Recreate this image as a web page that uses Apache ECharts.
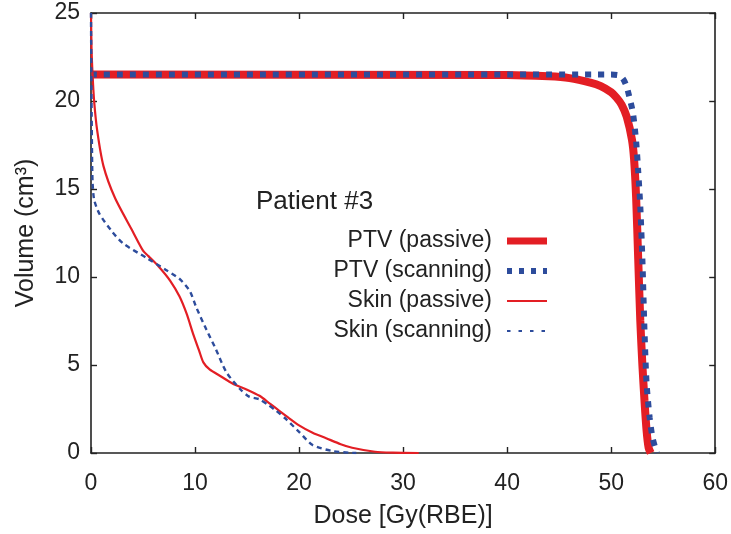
<!DOCTYPE html>
<html>
<head>
<meta charset="utf-8">
<script src="https://cdn.jsdelivr.net/npm/echarts@6/dist/echarts.min.js"></script>
<style>html,body{margin:0;padding:0;background:#fff}#c{width:731px;height:534px}</style>
</head>
<body>
<div id="c"></div>
<script>
// Data (dose in Gy(RBE), volume in cm3)
const xTicks = [0, 10, 20, 30, 40, 50, 60];
const yTicks = [0, 5, 10, 15, 20, 25];
const seriesNames = ['PTV (passive)', 'PTV (scanning)', 'Skin (passive)', 'Skin (scanning)'];
const legendTitle = 'Patient #3';
const xTitle = 'Dose [Gy(RBE)]';
const yTitle = 'Volume (cm³)';

const ptvPassive = [[0,21.5],[40,21.48],[44,21.4],[46,21.3],[48,21.05],[49,20.85],[50,20.5],[50.5,20.2],[51,19.8],[51.5,19.1],[52,17.8],[52.2,16.7],[52.4,14.5],[52.6,11],[52.8,7.5],[53,5],[53.2,3],[53.4,1.3],[53.6,0.3],[53.8,0]];
const ptvScanning = [[0,21.5],[50,21.5],[50.8,21.45],[51.2,21.2],[51.5,20.8],[51.8,20.1],[52.1,19.3],[52.4,17.7],[52.6,16],[52.8,14],[53.0,11],[53.2,7],[53.4,4],[53.7,2],[54,0.8],[54.4,0]];
const skinPassive = [[0,25],[0.05,23],[0.15,21.5],[0.3,20],[0.6,18.3],[1.2,16.3],[2.3,14.5],[4.0,12.6],[5.0,11.5],[5.5,11.2],[6.5,10.6],[7.6,9.8],[8.5,8.9],[9.2,7.9],[9.8,6.8],[10.4,5.8],[10.8,5.15],[11.4,4.75],[12.5,4.35],[13.6,3.95],[15,3.6],[16.2,3.25],[17.2,2.8],[18.1,2.4],[19,2.0],[20,1.57],[21.3,1.15],[22.6,0.84],[24,0.5],[25.1,0.3],[27.3,0.07],[29,0.02],[31.5,0]];
const skinScanning = [[0,25],[0.05,20],[0.1,17],[0.15,15.4],[0.3,14.4],[0.8,13.6],[2.0,12.6],[3.1,11.9],[5.3,11.1],[7.2,10.4],[8.5,9.9],[9.5,9.2],[10.1,8.3],[11.1,7.0],[12.0,5.9],[13.0,4.6],[14.3,3.65],[15.2,3.2],[16.2,3.05],[17.1,2.7],[17.8,2.4],[18.7,1.95],[20,1.2],[21.3,0.45],[23.2,0.11],[24.8,0.02],[25.5,0]];

const RED = '#E31E24';
const BLUE = '#2D4C9C';
const FONT = 'Liberation Sans';
const AXC = '#222';

const chart = echarts.init(document.getElementById('c'), null, {renderer: 'canvas'});

const baseX = {type: 'value', min: xTicks[0], max: xTicks[xTicks.length-1], interval: 10,
  splitLine: {show: false},
  axisLine: {show: true, onZero: false, lineStyle: {color: AXC, width: 1.6}},
  axisTick: {show: true, inside: true, length: 6, lineStyle: {color: AXC, width: 1.4}}};
const baseY = {type: 'value', min: yTicks[0], max: yTicks[yTicks.length-1], interval: 5,
  splitLine: {show: false},
  axisLine: {show: true, onZero: false, lineStyle: {color: AXC, width: 1.6}},
  axisTick: {show: true, inside: true, length: 6, lineStyle: {color: AXC, width: 1.4}}};

const legendRows = [
  {name: seriesNames[0], color: RED, width: 7, dash: null},
  {name: seriesNames[1], color: BLUE, width: 6, dash: [5, 7]},
  {name: seriesNames[2], color: RED, width: 2.2, dash: null},
  {name: seriesNames[3], color: BLUE, width: 2.2, dash: [3.5, 8]}
];
const graphics = [{type: 'text', left: 256, top: 189, style: {text: legendTitle, font: '26px "' + FONT + '"', fill: AXC}}];
legendRows.forEach((r, i) => {
  const y = 241 + i * 30;
  graphics.push({type: 'text', x: 492, y: y, style: {text: r.name, font: '23px "' + FONT + '"', fill: AXC, align: 'right', verticalAlign: 'middle'}});
  graphics.push({type: 'line', shape: {x1: 507, y1: y, x2: 547, y2: y}, style: {stroke: r.color, lineWidth: r.width, lineDash: r.dash}});
});

chart.setOption({
  animation: false,
  backgroundColor: '#fff',
  grid: {left: 91, right: 13, top: 13, bottom: 76, containLabel: false},
  xAxis: [
    Object.assign({}, baseX, {position: 'bottom', name: xTitle, nameLocation: 'middle', nameGap: 51,
      nameTextStyle: {fontFamily: FONT, fontSize: 25, color: AXC},
      axisLabel: {fontFamily: FONT, fontSize: 23, color: AXC, margin: 19}}),
    Object.assign({}, baseX, {position: 'top', axisLabel: {show: false}})
  ],
  yAxis: [
    Object.assign({}, baseY, {position: 'left', name: yTitle, nameLocation: 'middle', nameGap: 52,
      nameTextStyle: {fontFamily: FONT, fontSize: 25, color: AXC},
      axisLabel: {fontFamily: FONT, fontSize: 23, color: AXC, margin: 11}}),
    Object.assign({}, baseY, {position: 'right', axisLabel: {show: false}})
  ],
  series: [
    {name: seriesNames[0], type: 'line', data: ptvPassive, symbol: 'none', smooth: 0.25, lineStyle: {color: RED, width: 8}, z: 2},
    {name: seriesNames[1], type: 'line', data: ptvScanning, symbol: 'none', smooth: 0.25, lineStyle: {color: BLUE, width: 6, type: [6, 7]}, z: 3},
    {name: seriesNames[2], type: 'line', data: skinPassive, symbol: 'none', smooth: 0.25, lineStyle: {color: RED, width: 2.2}, z: 4},
    {name: seriesNames[3], type: 'line', data: skinScanning, symbol: 'none', smooth: 0.25, lineStyle: {color: BLUE, width: 2.4, type: [5, 4]}, z: 5}
  ],
  graphic: graphics
});
</script>
</body>
</html>
